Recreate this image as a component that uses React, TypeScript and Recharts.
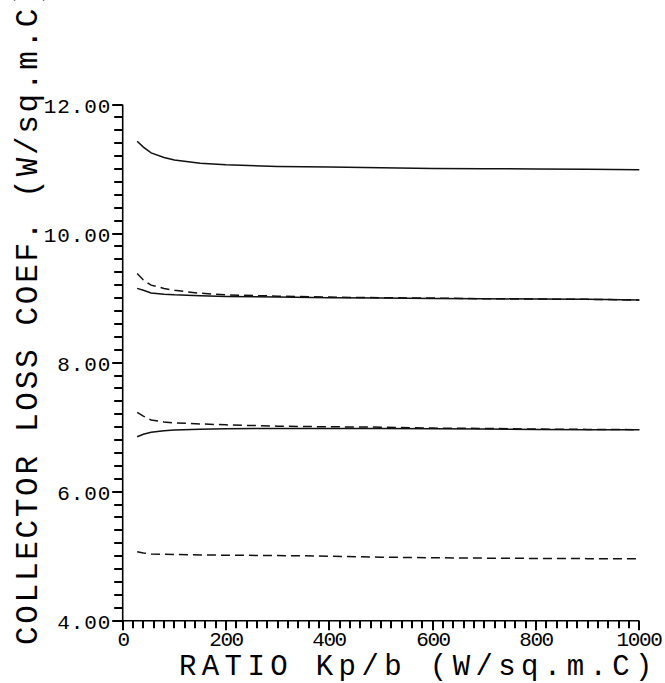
import React from "react";
import { LineChart, Line, XAxis, YAxis, Customized } from "recharts";

// Ratio Kp/b (W/sq.m.C)
const RATIO = [28, 40, 55, 80, 100, 150, 200, 300, 400, 500, 600, 700, 800, 900, 1000];

// Collector loss coefficient (W/sq.m.C)
const SOLID_TOP = [11.43, 11.34, 11.25, 11.18, 11.14, 11.09, 11.065, 11.04, 11.03, 11.02, 11.01, 11.005, 11.0, 10.995, 10.99];
const DASHED_MID = [9.38, 9.28, 9.2, 9.15, 9.12, 9.075, 9.05, 9.03, 9.015, 9.005, 9.0, 8.99, 8.985, 8.98, 8.97];
const SOLID_MID = [9.15, 9.12, 9.08, 9.06, 9.05, 9.035, 9.025, 9.015, 9.005, 9.0, 8.995, 8.99, 8.985, 8.98, 8.97];
const DASHED_LOW = [7.23, 7.17, 7.11, 7.08, 7.065, 7.05, 7.035, 7.015, 7.005, 7.0, 6.985, 6.98, 6.97, 6.965, 6.96];
const SOLID_LOW = [6.85, 6.89, 6.92, 6.945, 6.955, 6.968, 6.975, 6.98, 6.98, 6.98, 6.975, 6.97, 6.965, 6.96, 6.96];
const DASHED_BOTTOM = [5.07, 5.05, 5.035, 5.03, 5.025, 5.02, 5.015, 5.01, 5.0, 4.985, 4.975, 4.97, 4.965, 4.962, 4.96];

// Axis ticks
const X_TICKS = Array.from({ length: 51 }, (_, i) => i * 20);
const X_LABELS = [0, 200, 400, 600, 800, 1000];
const Y_TICKS = Array.from({ length: 41 }, (_, i) => Math.round((4 + i * 0.2) * 10) / 10);
const Y_LABELS = [4, 6, 8, 10, 12];

const X_TITLE = "RATIO Kp/b (W/sq.m.C)";
const Y_TITLE = "COLLECTOR LOSS COEF. (W/sq.m.C)";

const data = RATIO.map((x, i) => ({
  x,
  s1: SOLID_TOP[i],
  d1: DASHED_MID[i],
  s2: SOLID_MID[i],
  d2: DASHED_LOW[i],
  s3: SOLID_LOW[i],
  d3: DASHED_BOTTOM[i],
}));

const FONT = "'Liberation Mono', 'DejaVu Sans Mono', monospace";
const INK = "#000";

const isXMajor = (v: number) => X_LABELS.includes(v);
const isYMajor = (v: number) => Y_LABELS.some((m) => Math.abs(m - v) < 1e-6);

const XTick = (props: any) => {
  const { x, y, payload } = props;
  const v = Number(payload.value);
  const px = Math.round(Number(x));
  const py = Number(y);
  const major = isXMajor(v);
  return (
    <g>
      <line x1={px} x2={px} y1={py} y2={py + (major ? 9.5 : 7.5)} stroke={INK} strokeWidth={2} />
      {major && (
        <text x={px} y={py + 25.5} textAnchor="middle" fontFamily={FONT} fontSize={21} letterSpacing={-1.4} fill={INK}>
          {String(v)}
        </text>
      )}
    </g>
  );
};

const YTick = (props: any) => {
  const { x, y, payload } = props;
  const v = Number(payload.value);
  const px = Number(x);
  const py = Math.round(Number(y));
  const major = isYMajor(v);
  return (
    <g>
      <line x1={px - (major ? 10.5 : 8.5)} x2={px} y1={py} y2={py} stroke={INK} strokeWidth={2} />
      {major && (
        <text x={px - 11.5} y={py + 7.5} textAnchor="end" fontFamily={FONT} fontSize={21} letterSpacing={0.9} fill={INK}>
          {v.toFixed(2)}
        </text>
      )}
    </g>
  );
};

const Titles = () => (
  <g fontFamily={FONT} fill={INK}>
    <text x={179} y={675} fontSize={29} letterSpacing={5.4}>
      {X_TITLE}
    </text>
    <text x={37} y={645} fontSize={31} letterSpacing={2.7} transform="rotate(-90 37 645)">
      {Y_TITLE}
    </text>
  </g>
);

export default function App() {
  return (
    <div style={{ position: "absolute", left: 0, top: 0, width: 665, height: 683, background: "#fff" }}>
      <LineChart
        width={665}
        height={683}
        data={data}
        margin={{ top: 104.5, right: 25.7, bottom: 2.3, left: 62.7 }}
      >
        <XAxis
          dataKey="x"
          type="number"
          domain={[0, 1000]}
          ticks={X_TICKS}
          interval={0}
          tickSize={0}
          tickMargin={0}
          tickLine={false}
          tick={XTick}
          height={60}
          axisLine={{ stroke: INK, strokeWidth: 1.6 }}
        />
        <YAxis
          type="number"
          domain={[4, 12]}
          ticks={Y_TICKS}
          interval={0}
          tickSize={0}
          tickMargin={0}
          tickLine={false}
          tick={YTick}
          width={60}
          axisLine={{ stroke: INK, strokeWidth: 1.6 }}
        />
        <Line dataKey="s1" type="linear" stroke="#111" strokeWidth={1.5} dot={false} isAnimationActive={false} />
        <Line dataKey="d1" type="linear" stroke="#111" strokeWidth={1.5} strokeDasharray="9 5" dot={false} isAnimationActive={false} />
        <Line dataKey="s2" type="linear" stroke="#111" strokeWidth={1.5} dot={false} isAnimationActive={false} />
        <Line dataKey="d2" type="linear" stroke="#111" strokeWidth={1.5} strokeDasharray="9 5" dot={false} isAnimationActive={false} />
        <Line dataKey="s3" type="linear" stroke="#111" strokeWidth={1.5} dot={false} isAnimationActive={false} />
        <Line dataKey="d3" type="linear" stroke="#111" strokeWidth={1.5} strokeDasharray="9 5" dot={false} isAnimationActive={false} />
        <Customized component={Titles} />
      </LineChart>
    </div>
  );
}
